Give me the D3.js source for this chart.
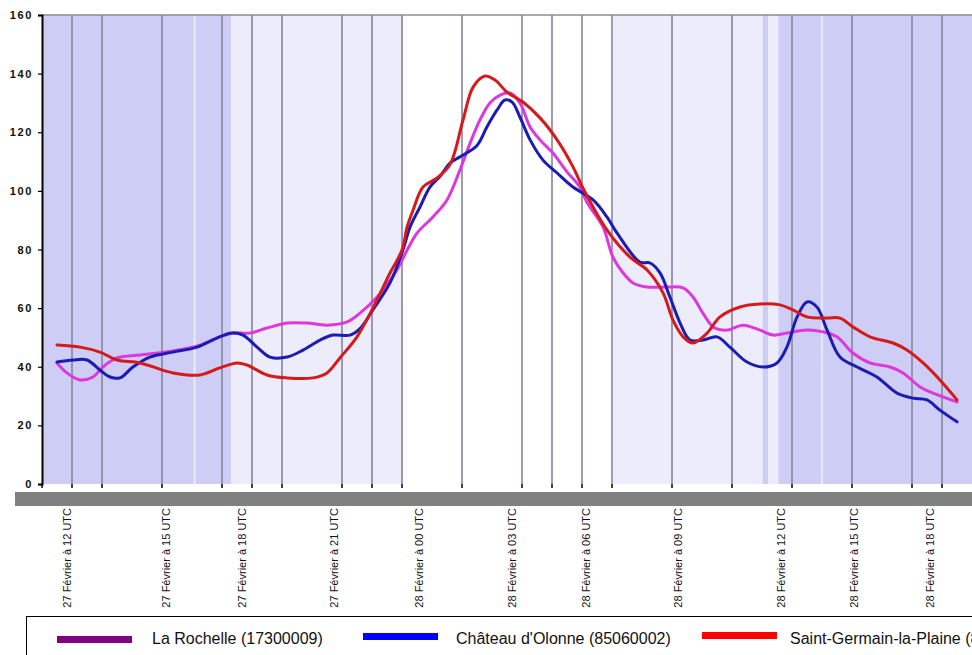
<!DOCTYPE html>
<html>
<head>
<meta charset="utf-8">
<script src="https://cdn.jsdelivr.net/npm/d3@7"></script>
<style>
  html, body { margin: 0; padding: 0; background: #ffffff; }
  svg { display: block; font-family: "Liberation Sans", Arial, sans-serif; }
</style>
</head>
<body>
<svg id="chart" width="972" height="655"></svg>
<script>
// ---------- DATA (x in hours since 27 Feb 11:30 UTC-ish chart origin, y in values) ----------
const yTicks = [0, 20, 40, 60, 80, 100, 120, 140, 160];

const xLabels = ["27 Février à 12 UTC", "27 Février à 15 UTC", "27 Février à 18 UTC", "27 Février à 21 UTC",
                 "28 Février à 00 UTC", "28 Février à 03 UTC", "28 Février à 06 UTC", "28 Février à 09 UTC",
                 "28 Février à 12 UTC", "28 Février à 15 UTC", "28 Février à 18 UTC"];
const xLabelPos = [0.83, 4.13, 6.67, 9.73, 12.57, 15.67, 18.13, 21.2, 24.63, 27.07, 29.6];

const gridHours = [1, 2, 4, 6, 7, 8, 10, 11, 12, 14, 16, 17, 18, 19, 21, 23, 25, 27, 29, 30];

const bandFrom  = [0,    6.3,   19.03, 24.03, 5.05, 24.2, 25.97];
const bandTo    = [6.3,  12.03, 24.03, 31,    5.12, 24.55, 26.03];
const bandShade = ["mid", "light", "light", "mid", "light", "light", "light"];

const seriesNames = ["La Rochelle (17300009)", "Château d'Olonne (85060002)", "Saint-Germain-la-Plaine (85…)"];

const laRochelleH = [0.5,0.83,1.27,1.7,2.03,2.5,3.27,4.37,5.27,5.93,6.37,6.93,7.5,8.17,8.83,9.5,10.17,10.6,11.17,11.83,12.17,12.5,13.03,13.5,13.93,14.27,14.6,14.93,15.27,15.6,15.93,16.27,16.6,17.03,17.5,17.93,18.17,18.7,19.03,19.37,19.7,20.17,20.83,21.37,21.7,22.03,22.37,22.83,23.37,23.93,24.37,24.83,25.5,26.03,26.5,27.03,27.6,28.27,28.7,29.27,29.7,30.5];
const laRochelleV = [41.3,37.9,35.5,36.5,39.9,43,44,45.4,47.4,50.2,51.5,51.5,53.2,54.9,54.9,54.2,55.3,58.3,63.8,73,79.8,85.6,91.1,96.9,107.1,116.3,124.2,130,132.7,133.4,130,121.8,117.4,112.9,106.5,101.3,96,87.7,77.4,72,68.6,67.2,67.2,66.9,63.8,58.3,53.6,52.5,54.2,52.5,50.8,51.5,52.5,51.9,50.2,44.7,41.3,39.9,37.9,33.1,31,28];

const olonneH = [0.5,1.03,1.5,1.93,2.27,2.6,3.03,3.6,4.37,5.17,5.83,6.33,6.7,7.17,7.6,8.17,8.7,9.27,9.7,10.27,10.6,11.03,11.6,12.03,12.27,12.6,12.93,13.27,13.6,13.93,14.5,14.83,15.17,15.43,15.67,15.93,16.27,16.7,17.17,17.7,18.37,18.83,19.17,19.93,20.27,20.6,20.93,21.27,21.6,22.03,22.5,22.93,23.5,24.03,24.5,24.83,25.17,25.5,25.83,26.17,26.6,27.17,27.83,28.5,29.03,29.5,29.93,30.5];
const olonneV = [41.6,42.3,42.3,38.9,36.5,36.2,39.9,43.3,45,46.7,49.8,51.5,50.8,46.7,43.3,43.3,45.7,49.1,50.8,50.8,53,59.4,68.6,79.8,87.7,94.5,101.3,105,109.5,111.6,115.5,121.8,127.6,131,130.3,125.2,117.4,110.5,106.1,101.3,96.9,91.1,85.6,75.7,75.4,72,63.8,54.9,49.1,49.1,50.2,46.7,41.6,39.9,41.3,46.7,57,62.1,60.4,52.5,43.3,39.9,36.5,31,29.3,28.7,25.2,21.2];

const saintGermainH = [0.5,1.27,1.93,2.5,3.27,4.37,5.27,5.93,6.5,6.83,7.5,8.17,9.03,9.5,9.93,10.5,11.03,11.6,12.0,12.17,12.37,12.7,13.17,13.6,14.03,14.37,14.77,15.1,15.5,16.03,16.6,17.17,17.7,18.03,18.83,19.6,20.17,20.7,21.03,21.37,21.7,22.17,22.6,23.27,23.93,24.6,25.03,25.5,26.17,26.6,27.03,27.6,28.37,28.83,29.37,29.93,30.5];
const saintGermainV = [47.4,46.7,45,42.3,41.3,37.9,37.2,39.6,41.3,40.6,37.2,36.2,36.2,37.9,43,50.2,60,72,79.8,87.7,93.5,101.3,104.4,109,124,135.4,139.2,137.8,133.7,130.3,124.9,117.4,108.2,101,86.7,77.4,73,65.2,56,50.2,48.1,51.5,57,60.4,61.4,61.1,59.4,57,56.6,56.6,53.6,50.2,48.1,45.7,41.3,35.5,28.7];

// ---------- STYLE ----------
const lineColors   = ["#dd38dd", "#1c1cb4", "#d61a1a"];
const legendColors = ["#800080", "#0000ff", "#ff0000"];
const shadeColors  = { mid: "#cdcdf5", light: "#ececfa" };

const svg = d3.select("#chart");
const x = d3.scaleLinear().domain([0, 31]).range([42, 972]);
const y = d3.scaleLinear().domain([0, 160]).range([484, 15]);

// background bands
svg.append("g").selectAll("rect")
  .data(bandFrom.map((f, i) => ({ f, t: bandTo[i], s: bandShade[i] })))
  .join("rect")
  .attr("x", d => x(d.f))
  .attr("width", d => x(d.t) - x(d.f))
  .attr("y", y(160))
  .attr("height", y(0) - y(160))
  .attr("fill", d => shadeColors[d.s]);

// vertical grid lines + bottom ticks
svg.append("g").selectAll("line")
  .data(gridHours)
  .join("line")
  .attr("x1", d => x(d)).attr("x2", d => x(d))
  .attr("y1", y(160)).attr("y2", y(0))
  .attr("stroke", "#85859c").attr("stroke-width", 1.6);
svg.append("g").selectAll("line")
  .data([0].concat(gridHours))
  .join("line")
  .attr("x1", d => x(d)).attr("x2", d => x(d))
  .attr("y1", y(0)).attr("y2", y(0) + 4)
  .attr("stroke", "#000").attr("stroke-width", 1.5);

// top border
svg.append("line")
  .attr("x1", x(0)).attr("x2", x(31))
  .attr("y1", y(160)).attr("y2", y(160))
  .attr("stroke", "#8c8c8c").attr("stroke-width", 1.5);

// y axis
const yAxis = d3.axisLeft(y).tickValues(yTicks).tickSize(4).tickPadding(5).tickFormat(d3.format("d"));
const yg = svg.append("g").attr("transform", `translate(${x(0)},0)`).call(yAxis);
yg.select(".domain").attr("stroke", "#000").attr("stroke-width", 2);
yg.selectAll(".tick line").attr("stroke", "#000").attr("stroke-width", 1.2);
yg.selectAll(".tick text")
  .attr("font-family", "Liberation Sans, Arial, sans-serif")
  .attr("font-size", 11).attr("font-weight", "bold")
  .attr("letter-spacing", "1.6px")
  .attr("fill", "#111");

// series lines
const line = d3.line().x(d => x(d[0])).y(d => y(d[1])).curve(d3.curveCatmullRom.alpha(0.5));
const seriesData = [
  laRochelleH.map((h, i) => [h, laRochelleV[i]]),
  olonneH.map((h, i) => [h, olonneV[i]]),
  saintGermainH.map((h, i) => [h, saintGermainV[i]])
];
svg.append("g").selectAll("path")
  .data(seriesData)
  .join("path")
  .attr("d", line)
  .attr("fill", "none")
  .attr("stroke", (d, i) => lineColors[i])
  .attr("stroke-width", 3)
  .attr("stroke-linejoin", "round")
  .attr("stroke-linecap", "round");

// gray bar below plot
svg.append("rect").attr("x", 15).attr("y", 492).attr("width", 972 - 15).attr("height", 14).attr("fill", "#808080");

// x labels (rotated)
svg.append("g").selectAll("text")
  .data(xLabels)
  .join("text")
  .attr("transform", (d, i) => `translate(${x(xLabelPos[i])},508) rotate(-90)`)
  .attr("text-anchor", "end")
  .attr("dy", "0.35em")
  .attr("font-size", 11)
  .attr("fill", "#111")
  .text(d => d);

// legend
svg.append("rect").attr("x", 26.5).attr("y", 616.5).attr("width", 1000).attr("height", 100)
  .attr("fill", "#fff").attr("stroke", "#000").attr("stroke-width", 1);
const legX = [57, 363, 702];
const legSwY = [636, 633, 632];
const legTextX = [152, 456, 790];
const lg = svg.append("g");
seriesNames.forEach((n, i) => {
  lg.append("rect").attr("x", legX[i]).attr("y", legSwY[i]).attr("width", 75).attr("height", 7).attr("fill", legendColors[i]);
  lg.append("text").attr("x", legTextX[i]).attr("y", 644).attr("font-size", 16).attr("fill", "#111").text(n);
});
</script>
</body>
</html>
